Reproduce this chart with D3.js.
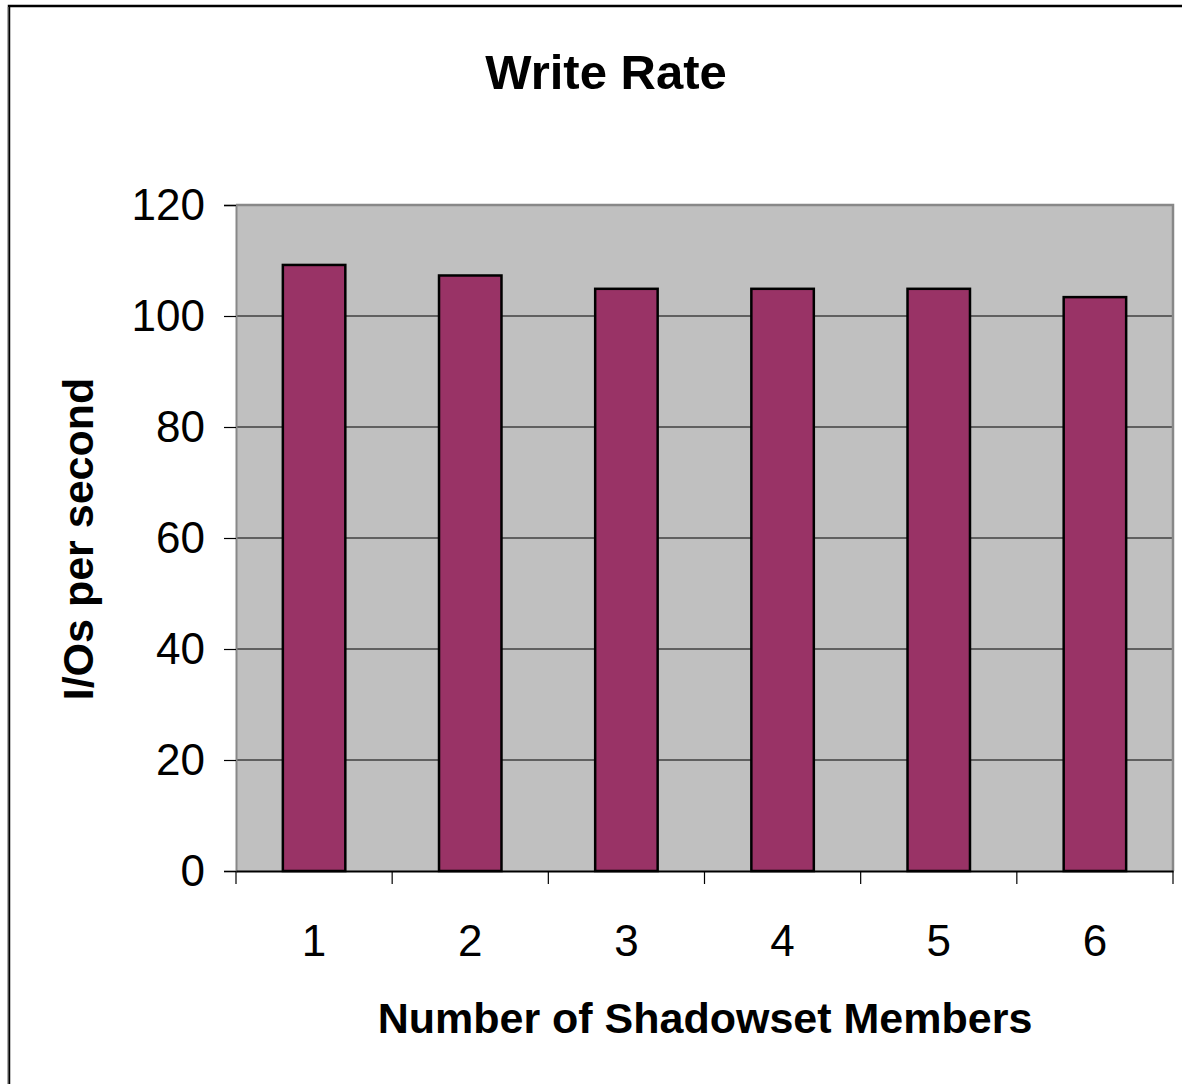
<!DOCTYPE html>
<html>
<head>
<meta charset="utf-8">
<script src="https://cdn.jsdelivr.net/npm/d3@7"></script>
<style>
  html, body { margin: 0; padding: 0; background: #fff; }
  svg { display: block; font-family: "Liberation Sans", Arial, sans-serif; }
</style>
</head>
<body>
<svg id="chart" width="1182" height="1084"></svg>
<script>
// Shadowset write throughput
const members = ["1", "2", "3", "4", "5", "6"];
const writeRate = [109.2, 107.3, 104.9, 104.9, 104.9, 103.4];
const yTicks = [0, 20, 40, 60, 80, 100, 120];

const svg = d3.select("#chart");
const plot = { left: 236, right: 1173, top: 205, bottom: 871 };

// outer chart frame
svg.append("rect")
  .attr("x", 9).attr("y", 6).attr("width", 1200).attr("height", 1100)
  .attr("fill", "none").attr("stroke", "#000").attr("stroke-width", 2.5);
svg.append("line")
  .attr("x1", 8).attr("x2", 8).attr("y1", 7).attr("y2", 1084)
  .attr("stroke", "#999").attr("stroke-width", 1);

const x = d3.scaleBand().domain(members).range([plot.left, plot.right]).padding(0);
const y = d3.scaleLinear().domain([0, 120]).range([plot.bottom, plot.top]);

// plot background
svg.append("rect")
  .attr("x", plot.left).attr("y", plot.top)
  .attr("width", plot.right - plot.left).attr("height", plot.bottom - plot.top)
  .attr("fill", "#c0c0c0");

// gridlines
svg.append("g").selectAll("line")
  .data(yTicks.filter(d => d > 0 && d < 120))
  .join("line")
  .attr("x1", plot.left).attr("x2", plot.right)
  .attr("y1", d => y(d)).attr("y2", d => y(d))
  .attr("stroke", "#000").attr("stroke-width", 1.2);

// plot border (top and right)
svg.append("path")
  .attr("d", `M${plot.left},${plot.top}H${plot.right}V${plot.bottom}`)
  .attr("fill", "none").attr("stroke", "#888").attr("stroke-width", 2.5);

// bars
const barW = x.bandwidth() * 0.4;
svg.append("g").selectAll("rect")
  .data(writeRate)
  .join("rect")
  .attr("x", (d, i) => x(members[i]) + (x.bandwidth() - barW) / 2)
  .attr("y", d => y(d))
  .attr("width", barW)
  .attr("height", d => y(0) - y(d))
  .attr("fill", "#993366")
  .attr("stroke", "#000").attr("stroke-width", 2.5);

// y axis
const yAxis = svg.append("g")
  .attr("transform", `translate(${plot.left},0)`)
  .call(d3.axisLeft(y).tickValues(yTicks).tickSize(12).tickPadding(19));
yAxis.select(".domain").attr("stroke", "#888").attr("stroke-width", 2);
yAxis.selectAll(".tick line").attr("stroke", "#000").attr("stroke-width", 1.2);
yAxis.selectAll(".tick text")
  .attr("font-size", 44).attr("fill", "#000")
  .attr("font-family", "Liberation Sans, Arial, sans-serif");

// x axis: ticks at category boundaries
const xAxis = svg.append("g")
  .attr("transform", `translate(0,${plot.bottom})`)
  .call(d3.axisBottom(x).tickSize(0).tickPadding(54));
xAxis.select(".domain").attr("stroke", "#000").attr("stroke-width", 2);
xAxis.selectAll(".tick text")
  .attr("font-size", 44).attr("fill", "#000")
  .attr("font-family", "Liberation Sans, Arial, sans-serif");
xAxis.append("g").selectAll("line")
  .data(members.map(m => x(m)).concat([plot.right]))
  .join("line")
  .attr("x1", d => d).attr("x2", d => d)
  .attr("y1", 0).attr("y2", 13)
  .attr("stroke", "#000").attr("stroke-width", 1.2);

// titles
svg.append("text")
  .attr("x", 606).attr("y", 89)
  .attr("text-anchor", "middle")
  .attr("font-size", 49).attr("font-weight", "bold")
  .text("Write Rate");

svg.append("text")
  .attr("x", 705).attr("y", 1033)
  .attr("text-anchor", "middle")
  .attr("font-size", 43).attr("font-weight", "bold")
  .text("Number of Shadowset Members");

svg.append("text")
  .attr("transform", "translate(93,539) rotate(-90)")
  .attr("text-anchor", "middle")
  .attr("font-size", 43).attr("font-weight", "bold")
  .text("I/Os per second");
</script>
</body>
</html>
